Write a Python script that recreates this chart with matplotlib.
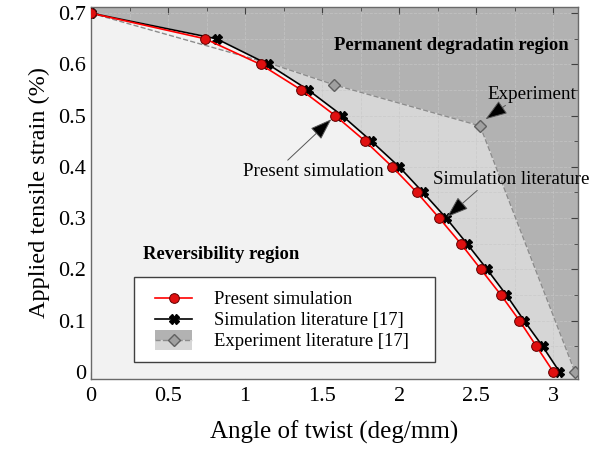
import numpy as np
import matplotlib
matplotlib.use('Agg')
import matplotlib.pyplot as plt
from matplotlib.patches import Rectangle
from matplotlib.lines import Line2D
from matplotlib.ticker import MultipleLocator

plt.rcParams['font.family'] = ['Liberation Serif', 'DejaVu Serif']

# strain levels (%)
strain = [0.70, 0.65, 0.60, 0.55, 0.50, 0.45, 0.40, 0.35, 0.30, 0.25, 0.20, 0.15, 0.10, 0.05, 0.0]
# angle of twist (deg/mm), present simulation
twist_present = [0.0, 0.74, 1.10, 1.365, 1.585, 1.78, 1.955, 2.115, 2.26, 2.40, 2.53, 2.66, 2.78, 2.89, 3.0]
# angle of twist, simulation literature [17]
twist_lit = [0.0, 0.815, 1.15, 1.41, 1.63, 1.82, 2.0, 2.155, 2.305, 2.44, 2.57, 2.695, 2.81, 2.93, 3.04]
# experiment literature [17]
twist_exp = [0.0, 1.18, 1.58, 2.525, 3.14]
strain_exp = [0.70, 0.60, 0.56, 0.48, 0.0]

DARK = '#b2b2b2'
MID = '#d6d6d6'
LIGHT = '#f2f2f2'


class ExpHandler:
    # legend swatch: dark band on top, lighter band below, dashed line + diamond
    def legend_artist(self, legend, orig_handle, fontsize, handlebox):
        x0, y0 = handlebox.xdescent, handlebox.ydescent
        w, h = handlebox.width, handlebox.height
        pad = h * 0.3
        tr = handlebox.get_transform()
        top = Rectangle((x0, y0 + h / 2), w, h / 2 + pad, fc=DARK, ec='none', transform=tr)
        bot = Rectangle((x0, y0 - pad), w, h / 2 + pad, fc=MID, ec='none', transform=tr)
        ln = Line2D([x0, x0 + w], [y0 + h / 2, y0 + h / 2], color='#8c8c8c', ls='--', lw=1,
                    transform=tr)
        mk = Line2D([x0 + w / 2], [y0 + h / 2], marker='D', ms=6, mfc='#a0a0a0', mec='#606060',
                    ls='none', transform=tr)
        for a in (top, bot, ln, mk):
            handlebox.add_artist(a)
        return top


fig = plt.figure(figsize=(5.94, 4.49), dpi=100)
ax = fig.add_axes([0.1532, 0.156, 0.8198, 0.8284])
ax.set_facecolor(DARK)

xlo, xhi = 0, 3.16
ylo, yhi = -0.014, 0.712

# region below the experiment curve
ax.fill([xlo] + twist_exp + [xhi, xhi, xlo], [yhi] + strain_exp + [ylo, ylo, ylo],
        color=MID, zorder=0.5)
# region below the simulation curve
ax.fill(twist_lit + [twist_lit[-1], xlo, xlo], strain + [ylo, ylo, strain[0]],
        color=LIGHT, zorder=0.6)

ax.grid(True, which='both', color='#c8c8c8', ls='--', lw=0.6, alpha=0.7, zorder=0.7)
ax.set_axisbelow(True)

ax.plot(twist_exp, strain_exp, ls='--', color='#8c8c8c', lw=1.0, zorder=1)
ax.plot(twist_exp[2:], strain_exp[2:], ls='none', marker='D', ms=6, mfc='#a0a0a0', mec='#606060', zorder=1)

ax.plot(twist_lit, strain, color='black', lw=1.2, marker='X', ms=7, mfc='black', mec='black', zorder=2)
ax.plot(twist_present, strain, color='red', lw=1.2, marker='o', ms=7, mfc='#e01010', mec='#600000',
        mew=0.7, zorder=3)

ax.set_xlim(xlo, xhi)
ax.set_ylim(ylo, yhi)
ax.xaxis.set_minor_locator(MultipleLocator(0.25))
ax.yaxis.set_minor_locator(MultipleLocator(0.05))
ax.set_xticks(np.arange(0, 3.01, 0.5))
ax.set_xticklabels(['0', '0.5', '1', '1.5', '2', '2.5', '3'])
ax.set_yticks(np.arange(0, 0.71, 0.1))
ax.set_yticklabels(['0', '0.1', '0.2', '0.3', '0.4', '0.5', '0.6', '0.7'])
ax.tick_params(which='both', direction='in', top=True, right=True, color='#404040')
ax.tick_params(which='major', length=5, labelsize=16)
ax.tick_params(axis='x', which='major', pad=6)
ax.tick_params(which='minor', length=3)
for s in ax.spines.values():
    s.set_color('#6a6a6a')
    s.set_linewidth(1.0)

ax.set_xlabel('Angle of twist (deg/mm)', fontsize=18, labelpad=10)
ax.set_ylabel('Applied tensile strain (%)', fontsize=17.5, labelpad=6)

ax.text(2.34, 0.636, 'Permanent degradatin region', fontsize=13.4, fontweight='bold',
        ha='center', va='center')
ax.text(0.845, 0.229, 'Reversibility region', fontsize=13.4, fontweight='bold',
        ha='center', va='center')

arrow = dict(arrowstyle='-|>,head_length=1.0,head_width=0.35', ec='#555555',
             fc='black', lw=0.7, shrinkA=0, shrinkB=0)
ax.annotate('Present simulation', xy=(1.56, 0.493), xytext=(1.44, 0.391), fontsize=13.7,
            ha='center', va='center', arrowprops=dict(arrow, relpos=(0.3, 1.0)))
ax.annotate('Experiment', xy=(2.56, 0.493), xytext=(2.86, 0.542), fontsize=13.7,
            ha='center', va='center', arrowprops=dict(arrow, relpos=(0.25, 0.0)))
ax.annotate('Simulation literature', xy=(2.31, 0.302), xytext=(2.73, 0.376), fontsize=13.7,
            ha='center', va='center', arrowprops=dict(arrow, relpos=(0.3, 0.0)))

# legend frame drawn separately so the padding matches the original box
ax.add_patch(Rectangle((0.0883, 0.0457), 0.6181, 0.2285, transform=ax.transAxes,
                       fc='white', ec='#404040', lw=1.0, zorder=4.9))

h1 = Line2D([], [], color='red', lw=1.2, marker='o', ms=7, mfc='#e01010', mec='#600000', mew=0.7)
h2 = Line2D([], [], color='black', lw=1.2, marker='X', ms=7, mfc='black', mec='black')
h3 = Rectangle((0, 0), 1, 1)
leg = ax.legend([h1, h2, h3],
                ['Present simulation', 'Simulation literature [17]', 'Experiment literature [17]'],
                handler_map={Rectangle: ExpHandler()},
                loc='upper left', bbox_to_anchor=(0.1314, 0.236), fontsize=13.4,
                frameon=False, handlelength=2.0, handletextpad=1.15, labelspacing=0.22,
                borderpad=0, borderaxespad=0)
leg.set_zorder(5)

fig.savefig('out.png', dpi=100)
